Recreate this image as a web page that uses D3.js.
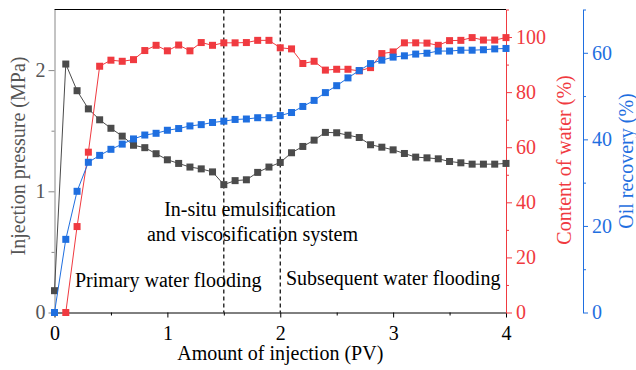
<!DOCTYPE html>
<html>
<head>
<meta charset="utf-8">
<script src="https://cdn.jsdelivr.net/npm/d3@7/dist/d3.min.js"></script>
<style>
  html, body { margin: 0; padding: 0; background: #fff; }
  svg { display: block; font-family: "Liberation Serif", "Times New Roman", serif; }
</style>
</head>
<body>
<svg id="chart" width="636" height="370"></svg>
<script>
// Injection volume (PV), sampled every 0.1 PV
const injection = [0,0.1,0.2,0.3,0.4,0.5,0.6,0.7,0.8,0.9,1.0,1.1,1.2,1.3,1.4,1.5,1.6,1.7,1.8,1.9,2.0,
  2.1,2.2,2.3,2.4,2.5,2.6,2.7,2.8,2.9,3.0,3.1,3.2,3.3,3.4,3.5,3.6,3.7,3.8,3.9,4.0];

// Injection pressure (MPa)
const pressure = [0.18,2.05,1.83,1.68,1.59,1.52,1.455,1.38,1.36,1.31,1.26,1.23,1.20,1.185,1.16,1.055,1.088,1.095,1.156,1.20,1.238,
  1.318,1.37,1.422,1.486,1.483,1.463,1.444,1.384,1.364,1.342,1.312,1.282,1.276,1.268,1.246,1.235,1.224,1.224,1.224,1.23];

// Water content (%) — first sample not recorded
const waterCut = [null,0,31.2,58.2,89.4,91.6,91.2,91.8,95.1,97.0,95.0,97.1,95.0,98.0,97.0,97.9,97.9,98.0,98.8,98.8,96.1,
  95.7,90.4,91.2,88.0,88.3,88.3,87.7,88.9,94.0,94.6,97.9,97.9,97.8,97.0,98.7,98.8,99.8,98.9,98.9,99.8];

// Oil recovery (%)
const oilRecovery = [0,16.9,28.0,34.7,36.3,37.7,38.9,40.1,41.0,41.4,42.1,42.5,43.1,43.4,43.9,44.2,44.6,44.7,45.0,45.0,45.5,
  46.2,47.6,49.0,50.8,52.4,54.2,55.9,57.5,58.3,59.0,59.3,59.7,59.9,60.4,60.4,60.6,60.6,60.7,60.9,61.0];

// Stage boundaries (PV)
const stageBounds = [1.5, 2.0];

const xTicks = [0, 1, 2, 3, 4];
const pressureTicks = [0, 1, 2];
const waterTicks = [0, 20, 40, 60, 80, 100];
const oilTicks = [0, 20, 40, 60];

const colors = { pressure: "#4b4b4b", water: "#f03a40", oil: "#1f6fe0", leftAxis: "#888888", leftText: "#555555" };

const svg = d3.select("#chart");
const m = { left: 54.5, right: 506, top: 9.5, bottom: 312.5 };

const x = d3.scaleLinear().domain([0, 4]).range([m.left, m.right]);
const yP = d3.scaleLinear().domain([0, 2.5]).range([m.bottom, m.top]);
const yW = d3.scaleLinear().domain([0, 110]).range([m.bottom, m.top]);
const yO = d3.scaleLinear().domain([0, 70]).range([m.bottom, m.top]);

const fontSize = 20;

// top frame
svg.append("line").attr("x1", m.left).attr("x2", m.right).attr("y1", m.top).attr("y2", m.top)
  .attr("stroke", "#000").attr("stroke-width", 1);

// stage boundary lines
svg.selectAll(".stage").data(stageBounds).join("line")
  .attr("x1", d => x(d)).attr("x2", d => x(d))
  .attr("y1", m.top).attr("y2", m.bottom)
  .attr("stroke", "#000").attr("stroke-width", 1.2).attr("stroke-dasharray", "4,3");

// bottom axis
const gx = svg.append("g").attr("transform", `translate(0,${m.bottom})`)
  .call(d3.axisBottom(x).tickValues(xTicks).tickFormat(d3.format("d")).tickSize(5).tickSizeOuter(0));
svg.append("g").attr("transform", `translate(0,${m.bottom})`)
  .call(d3.axisBottom(x).tickValues([0.5, 1.5, 2.5, 3.5]).tickFormat("").tickSize(3).tickSizeOuter(0))
  .call(g => g.select(".domain").remove());
gx.selectAll("text").attr("font-size", fontSize).attr("font-family", "Liberation Serif").attr("dy", "0.95em").attr("fill", "#000");
svg.append("text").attr("x", (m.left + m.right) / 2).attr("y", 360).attr("text-anchor", "middle")
  .attr("font-size", fontSize).text("Amount of injection (PV)");

// left axis (pressure)
const gl = svg.append("g").attr("transform", `translate(${m.left},0)`)
  .call(d3.axisLeft(yP).tickValues(pressureTicks).tickFormat(d3.format("d")).tickSize(6).tickSizeOuter(0));
svg.append("g").attr("transform", `translate(${m.left},0)`)
  .call(d3.axisLeft(yP).tickValues([0.5, 1.5]).tickFormat("").tickSize(3).tickSizeOuter(0))
  .call(g => g.select(".domain").remove())
  .selectAll("line").attr("stroke", colors.leftAxis);
gl.select(".domain").attr("stroke", colors.leftAxis);
gl.selectAll("line").attr("stroke", colors.leftAxis);
gl.selectAll("text").attr("font-size", fontSize).attr("font-family", "Liberation Serif").attr("fill", colors.leftText).attr("x", -9);
svg.append("text").attr("transform", `translate(25,156) rotate(-90)`).attr("text-anchor", "middle")
  .attr("font-size", fontSize).attr("fill", colors.leftText).text("Injection pressure (MPa)");

// right axis (water content)
const gw = svg.append("g").attr("transform", `translate(${m.right},0)`)
  .call(d3.axisRight(yW).tickValues(waterTicks).tickFormat(d3.format("d")).tickSize(6).tickSizeOuter(0));
svg.append("g").attr("transform", `translate(${m.right},0)`)
  .call(d3.axisRight(yW).tickValues([10, 30, 50, 70, 90, 110]).tickFormat("").tickSize(3).tickSizeOuter(0))
  .call(g => g.select(".domain").remove())
  .selectAll("line").attr("stroke", colors.water);
gw.select(".domain").attr("stroke", colors.water);
gw.selectAll("line").attr("stroke", colors.water);
gw.selectAll("text").attr("font-size", fontSize).attr("font-family", "Liberation Serif").attr("fill", colors.water).attr("x", 10);
svg.append("text").attr("transform", `translate(571,160) rotate(-90)`).attr("text-anchor", "middle")
  .attr("font-size", fontSize).attr("fill", colors.water).text("Content of water (%)");

// outer right axis (oil recovery)
const oAxisX = 583;
const go = svg.append("g").attr("transform", `translate(${oAxisX},0)`)
  .call(d3.axisRight(yO).tickValues(oilTicks).tickFormat(d3.format("d")).tickSize(5).tickSizeOuter(0));
svg.append("g").attr("transform", `translate(${oAxisX},0)`)
  .call(d3.axisRight(yO).tickValues([10, 30, 50, 70]).tickFormat("").tickSize(3).tickSizeOuter(0))
  .call(g => g.select(".domain").remove())
  .selectAll("line").attr("stroke", colors.oil);
go.select(".domain").attr("stroke", colors.oil);
go.selectAll("line").attr("stroke", colors.oil);
go.selectAll("text").attr("font-size", fontSize).attr("font-family", "Liberation Serif").attr("fill", colors.oil).attr("x", 9);
svg.append("text").attr("transform", `translate(633,161) rotate(-90)`).attr("text-anchor", "middle")
  .attr("font-size", fontSize).attr("fill", colors.oil).text("Oil recovery (%)");

// series: line + square markers
function drawSeries(values, yScale, color) {
  const pts = injection.map((v, i) => [v, values[i]]).filter(d => d[1] != null);
  svg.append("path").datum(pts)
    .attr("fill", "none").attr("stroke", color).attr("stroke-width", 1)
    .attr("d", d3.line().x(d => x(d[0])).y(d => yScale(d[1])));
  const s = 7;
  svg.append("g").selectAll("rect").data(pts).join("rect")
    .attr("x", d => x(d[0]) - s / 2).attr("y", d => yScale(d[1]) - s / 2)
    .attr("width", s).attr("height", s).attr("fill", color);
}
drawSeries(pressure, yP, colors.pressure);
drawSeries(waterCut, yW, colors.water);
drawSeries(oilRecovery, yO, colors.oil);

// stage annotations
const notes = [
  { t: "In-situ emulsification", x: 250, y: 216, anchor: "middle" },
  { t: "and viscosification system", x: 252.5, y: 241, anchor: "middle" },
  { t: "Primary water flooding", x: 75, y: 287, anchor: "start" },
  { t: "Subsequent water flooding", x: 286, y: 285, anchor: "start" }
];
svg.selectAll(".note").data(notes).join("text")
  .attr("x", d => d.x).attr("y", d => d.y).attr("text-anchor", d => d.anchor)
  .attr("font-size", fontSize).attr("fill", "#000").text(d => d.t);
</script>
</body>
</html>
